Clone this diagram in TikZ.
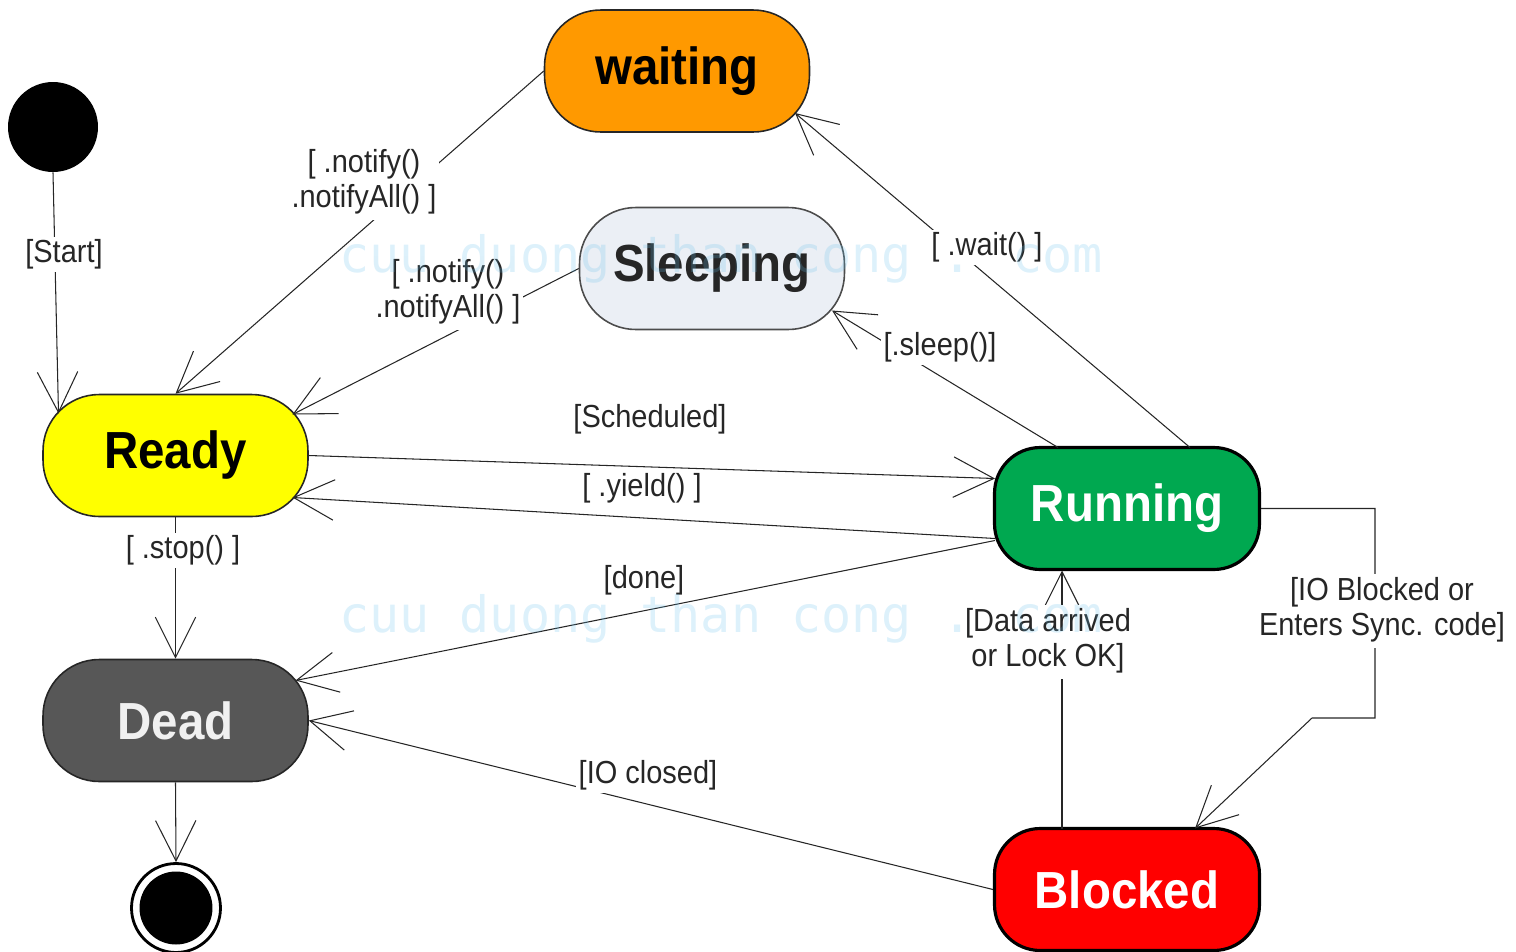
\documentclass[tikz,border=0pt]{standalone}
\usepackage{fontspec}
\usepackage{graphicx}
\setmainfont{Liberation Sans}
\newfontfamily\wmfont{DejaVu Sans Mono}
\usetikzlibrary{arrows.meta,calc}
\definecolor{cwait}{RGB}{255,153,0}
\definecolor{csleep}{RGB}{235,239,245}
\definecolor{cready}{RGB}{255,255,0}
\definecolor{crun}{RGB}{0,168,80}
\definecolor{cdead}{RGB}{87,87,87}
\definecolor{cblock}{RGB}{255,0,0}
\definecolor{cwm}{RGB}{100,190,235}
\newcommand{\vs}[1]{\scalebox{1}[1.1]{#1}}
\newcommand{\vt}[1]{\scalebox{1}[1.1]{\begin{tabular}{@{}c@{}}#1\end{tabular}}}
\begin{document}
\begin{tikzpicture}[x=0.02cm,y=-0.02cm,
  state/.style={rectangle, rounded corners=32pt, minimum width=5.3cm, minimum height=2.44cm,
    inner sep=0pt, draw=black!85, line width=0.9pt, font=\fontsize{27}{30}\selectfont\bfseries},
  hard/.style={rounded corners=26pt, line width=1.8pt, draw=black},
  lbl/.style={fill=white, inner sep=1.5pt, font=\fontsize{16.5}{18}\selectfont, text=black!85},
  arr/.style={draw=black!85, line width=0.6pt, -{Straight Barb[length=23pt,width=23pt]}},
  wm/.style={font=\wmfont\fontsize{28.5}{30}\selectfont, text=cwm, text opacity=0.22, anchor=base}
]
\useasboundingbox (0,0) rectangle (1516,951);
\clip (0,0) rectangle (1516,951);

% states
\node[circle, fill=black, minimum size=1.8cm, inner sep=0pt] (start) at (53,127) {};
\node[state, fill=cwait] (waiting) at (677,71) {\vs{waiting}};
\node[state, fill=csleep, draw=black!70, text=black!85] (sleeping) at (712,268.5) {\vs{Sleeping}};
\node[state, fill=cready] (ready) at (175.5,455.5) {\vs{Ready}};
\node[state, hard, fill=crun, text=white] (running) at (1127,508.5) {\vs{Running}};
\node[state, fill=cdead, text=white!94!black] (dead) at (175.5,720.5) {\vs{Dead}};
\node[state, hard, fill=cblock, text=white] (blocked) at (1127,889.5) {\vs{Blocked}};
\node[circle, draw=black, line width=1.6pt, fill=white, minimum size=1.78cm, inner sep=0pt] (end) at (176,908) {};
\node[circle, fill=black, minimum size=1.46cm, inner sep=0pt] (endin) at (end) {};

% transitions
\draw[arr] (start.south) -- ($(ready)+(-117,-42)$);
\draw[arr] (waiting.west) -- (ready.north);
\draw[arr] (sleeping.west) -- ($(ready)+(117,-41)$);
\draw[arr] ($(running)+(63,-61)$) -- ($(waiting)+(118,42)$);
\draw[arr] ($(running)+(-69,-61)$) -- ($(sleeping)+(120,42)$);
\draw[arr] (ready.east) -- ($(running)+(-132,-30)$);
\draw[arr] ($(running)+(-132,30)$) -- ($(ready)+(117,42)$);
\draw[arr] ($(running)+(-132,32)$) -- ($(dead)+(120,-40)$);
\draw[arr] (blocked.west) -- (dead.east);
\draw[arr] ($(blocked)+(-65,-61)$) -- ($(running)+(-65,62)$);
\coordinate (b1) at (1375,508.5);
\coordinate (b2) at (1375,718);
\coordinate (b3) at (1312,718);
\draw[arr] (running.east) -- (b1) -- (b2) -- (b3) -- ($(blocked)+(68,-61)$);
\draw[arr] (ready.south) -- (dead.north);
\draw[arr] (dead.south) -- (end.north);

% labels
\node[lbl] (lstart) at (64,254) {\vs{[Start]}};
\node[lbl] (lnotify1) at (364,183) {\vt{[ .notify()\\.notifyAll() ]}};
\node[lbl] (lnotify2) at (448,293) {\vt{[ .notify()\\.notifyAll() ]}};
\node[lbl] (lwait) at (987,247) {\vs{[ .wait() ]}};
\node[lbl] (lsleep) at (940,347) {\vs{[.sleep()]}};
\node[lbl, fill=none] (lsched) at (650,419) {\vs{[Scheduled]}};
\node[lbl, fill=none] (lyield) at (642,488) {\vs{[ .yield() ]}};
\node[lbl] (lstop) at (183,550) {\vs{[ .stop() ]}};
\node[lbl, fill=none] (ldone) at (644,580) {\vs{[done]}};
\node[lbl] (lio) at (648,775) {\vs{[IO closed]}};
\node[lbl] (ldata) at (1048,642) {\vt{[Data arrived\\or Lock OK]}};
\node[lbl] (lblock) at (1382,611) {\vt{[IO Blocked or\\Enters Sync. code]}};

% watermark
\node[wm] (wm1) at (721,272) {cuu duong than cong . com};
\node[wm] (wm2) at (721,632) {cuu duong than cong . com};
\end{tikzpicture}
\end{document}
